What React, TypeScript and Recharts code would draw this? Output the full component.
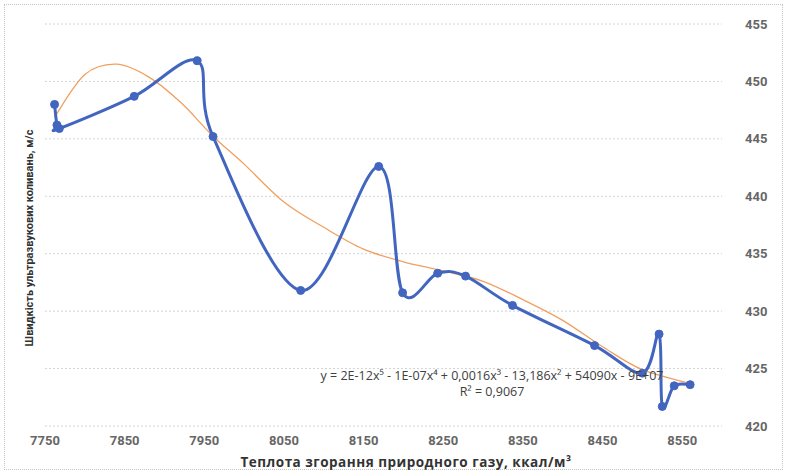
import { LineChart, Line, XAxis, YAxis, CartesianGrid } from "recharts";

// measured points (heat of combustion vs ultrasound speed)
const heatValues = [7762, 7765, 7768, 7862, 7941, 7961, 8071, 8169, 8199, 8243, 8278, 8337, 8440, 8500, 8521, 8525, 8540, 8560];
const speedValues = [448.0, 446.2, 445.9, 448.7, 451.8, 445.2, 431.8, 442.6, 431.6, 433.3, 433.05, 430.5, 427.0, 424.6, 428.0, 421.7, 423.5, 423.6];

// polynomial trendline
const trendX = [7762, 7800, 7840, 7880, 7920, 7960, 8000, 8050, 8100, 8150, 8200, 8250, 8300, 8350, 8400, 8450, 8500, 8560];
const trendY = [446.9, 450.6, 451.5, 450.4, 448.2, 445.3, 442.8, 439.5, 437.3, 435.4, 434.3, 433.5, 432.6, 431.0, 429.2, 426.9, 424.9, 423.7];

const xTicks = [7750, 7850, 7950, 8050, 8150, 8250, 8350, 8450, 8550];
const yTicks = [420, 425, 430, 435, 440, 445, 450, 455];

const measured = heatValues.map((x, i) => ({ x, y: speedValues[i] }));
const trend = trendX.map((x, i) => ({ x, y: trendY[i] }));

const BLUE = "#4266c0";
const ORANGE = "#f0a060";
const FONT = "Roboto, 'Open Sans', sans-serif";
const WIDE = "'Open Sans', Roboto, sans-serif";

// Excel-like smoothed line (Catmull-Rom through the points)
const excelSmooth = (context: any) => {
  let pts: number[][] = [];
  return {
    areaStart() {},
    areaEnd() {},
    lineStart() {
      pts = [];
    },
    point(x: number, y: number) {
      pts.push([+x, +y]);
    },
    lineEnd() {
      const n = pts.length;
      if (!n) return;
      context.moveTo(pts[0][0], pts[0][1]);
      for (let i = 0; i < n - 1; i++) {
        const p0 = pts[i > 0 ? i - 1 : i];
        const p1 = pts[i];
        const p2 = pts[i + 1];
        const p3 = pts[i + 2 < n ? i + 2 : i + 1];
        context.bezierCurveTo(
          p1[0] + (p2[0] - p0[0]) / 6,
          p1[1] + (p2[1] - p0[1]) / 6,
          p2[0] - (p3[0] - p1[0]) / 6,
          p2[1] - (p3[1] - p1[1]) / 6,
          p2[0],
          p2[1]
        );
      }
    },
  };
};

const eqStyle = {
  position: "absolute" as const,
  left: 492,
  transform: "translate(-50%, -50%)",
  whiteSpace: "nowrap" as const,
  fontFamily: WIDE,
  fontSize: 12.5,
  lineHeight: "14px",
  color: "#404040",
};

const App = () => {
  return (
    <div
      style={{
        position: "absolute",
        left: 0,
        top: 0,
        width: 787,
        height: 473,
        background: "#fff",
        fontFamily: FONT,
      }}
    >
      <div
        style={{
          position: "absolute",
          left: 4,
          top: 4,
          width: 777,
          height: 464,
          border: "1px dotted #c4c4c4",
        }}
      />
      <LineChart
        width={787}
        height={473}
        margin={{ top: 24, right: 10, left: 45, bottom: 27 }}
      >
        <CartesianGrid vertical={false} stroke="#d4d4d4" strokeDasharray="2 2" />
        <XAxis
          type="number"
          dataKey="x"
          domain={[7750, 8600]}
          ticks={xTicks}
          allowDataOverflow
          height={20}
          axisLine={false}
          tickLine={false}
          tickMargin={4}
          tick={{ fill: "#666", fontSize: 13, fontWeight: 700, fontFamily: FONT }}
        />
        <YAxis
          type="number"
          dataKey="y"
          orientation="right"
          domain={[420, 455]}
          ticks={yTicks}
          width={55}
          axisLine={false}
          tickLine={false}
          tickMargin={17}
          tick={{ fill: "#666", fontSize: 13, fontWeight: 700, fontFamily: FONT }}
        />
        <Line
          data={trend}
          dataKey="y"
          type={excelSmooth as any}
          stroke={ORANGE}
          strokeWidth={1.3}
          dot={false}
          isAnimationActive={false}
        />
        <Line
          data={measured}
          dataKey="y"
          type={excelSmooth as any}
          stroke={BLUE}
          strokeWidth={3}
          dot={{ r: 4, fill: BLUE, stroke: BLUE, strokeWidth: 1 }}
          isAnimationActive={false}
        />
      </LineChart>

      <div
        style={{
          position: "absolute",
          left: 29,
          top: 238,
          transform: "translate(-50%, -50%) rotate(-90deg)",
          whiteSpace: "nowrap",
          fontSize: 11,
          fontWeight: 700,
          color: "#333",
        }}
      >
        Швидкість ультразвукових коливань, м/с
      </div>
      <div
        style={{
          position: "absolute",
          left: 406,
          top: 462,
          transform: "translate(-50%, -50%)",
          whiteSpace: "nowrap",
          fontFamily: WIDE,
          fontSize: 13.5,
          letterSpacing: 0.5,
          fontWeight: 700,
          color: "#333",
        }}
      >
        Теплота згорання природного газу, ккал/м³
      </div>
      <div style={{ ...eqStyle, top: 376 }}>
        y = 2E-12x⁵ - 1E-07x⁴ + 0,0016x³ - 13,186x² + 54090x - 9E+07
      </div>
      <div style={{ ...eqStyle, top: 392 }}>R² = 0,9067</div>
    </div>
  );
};

export default App;
